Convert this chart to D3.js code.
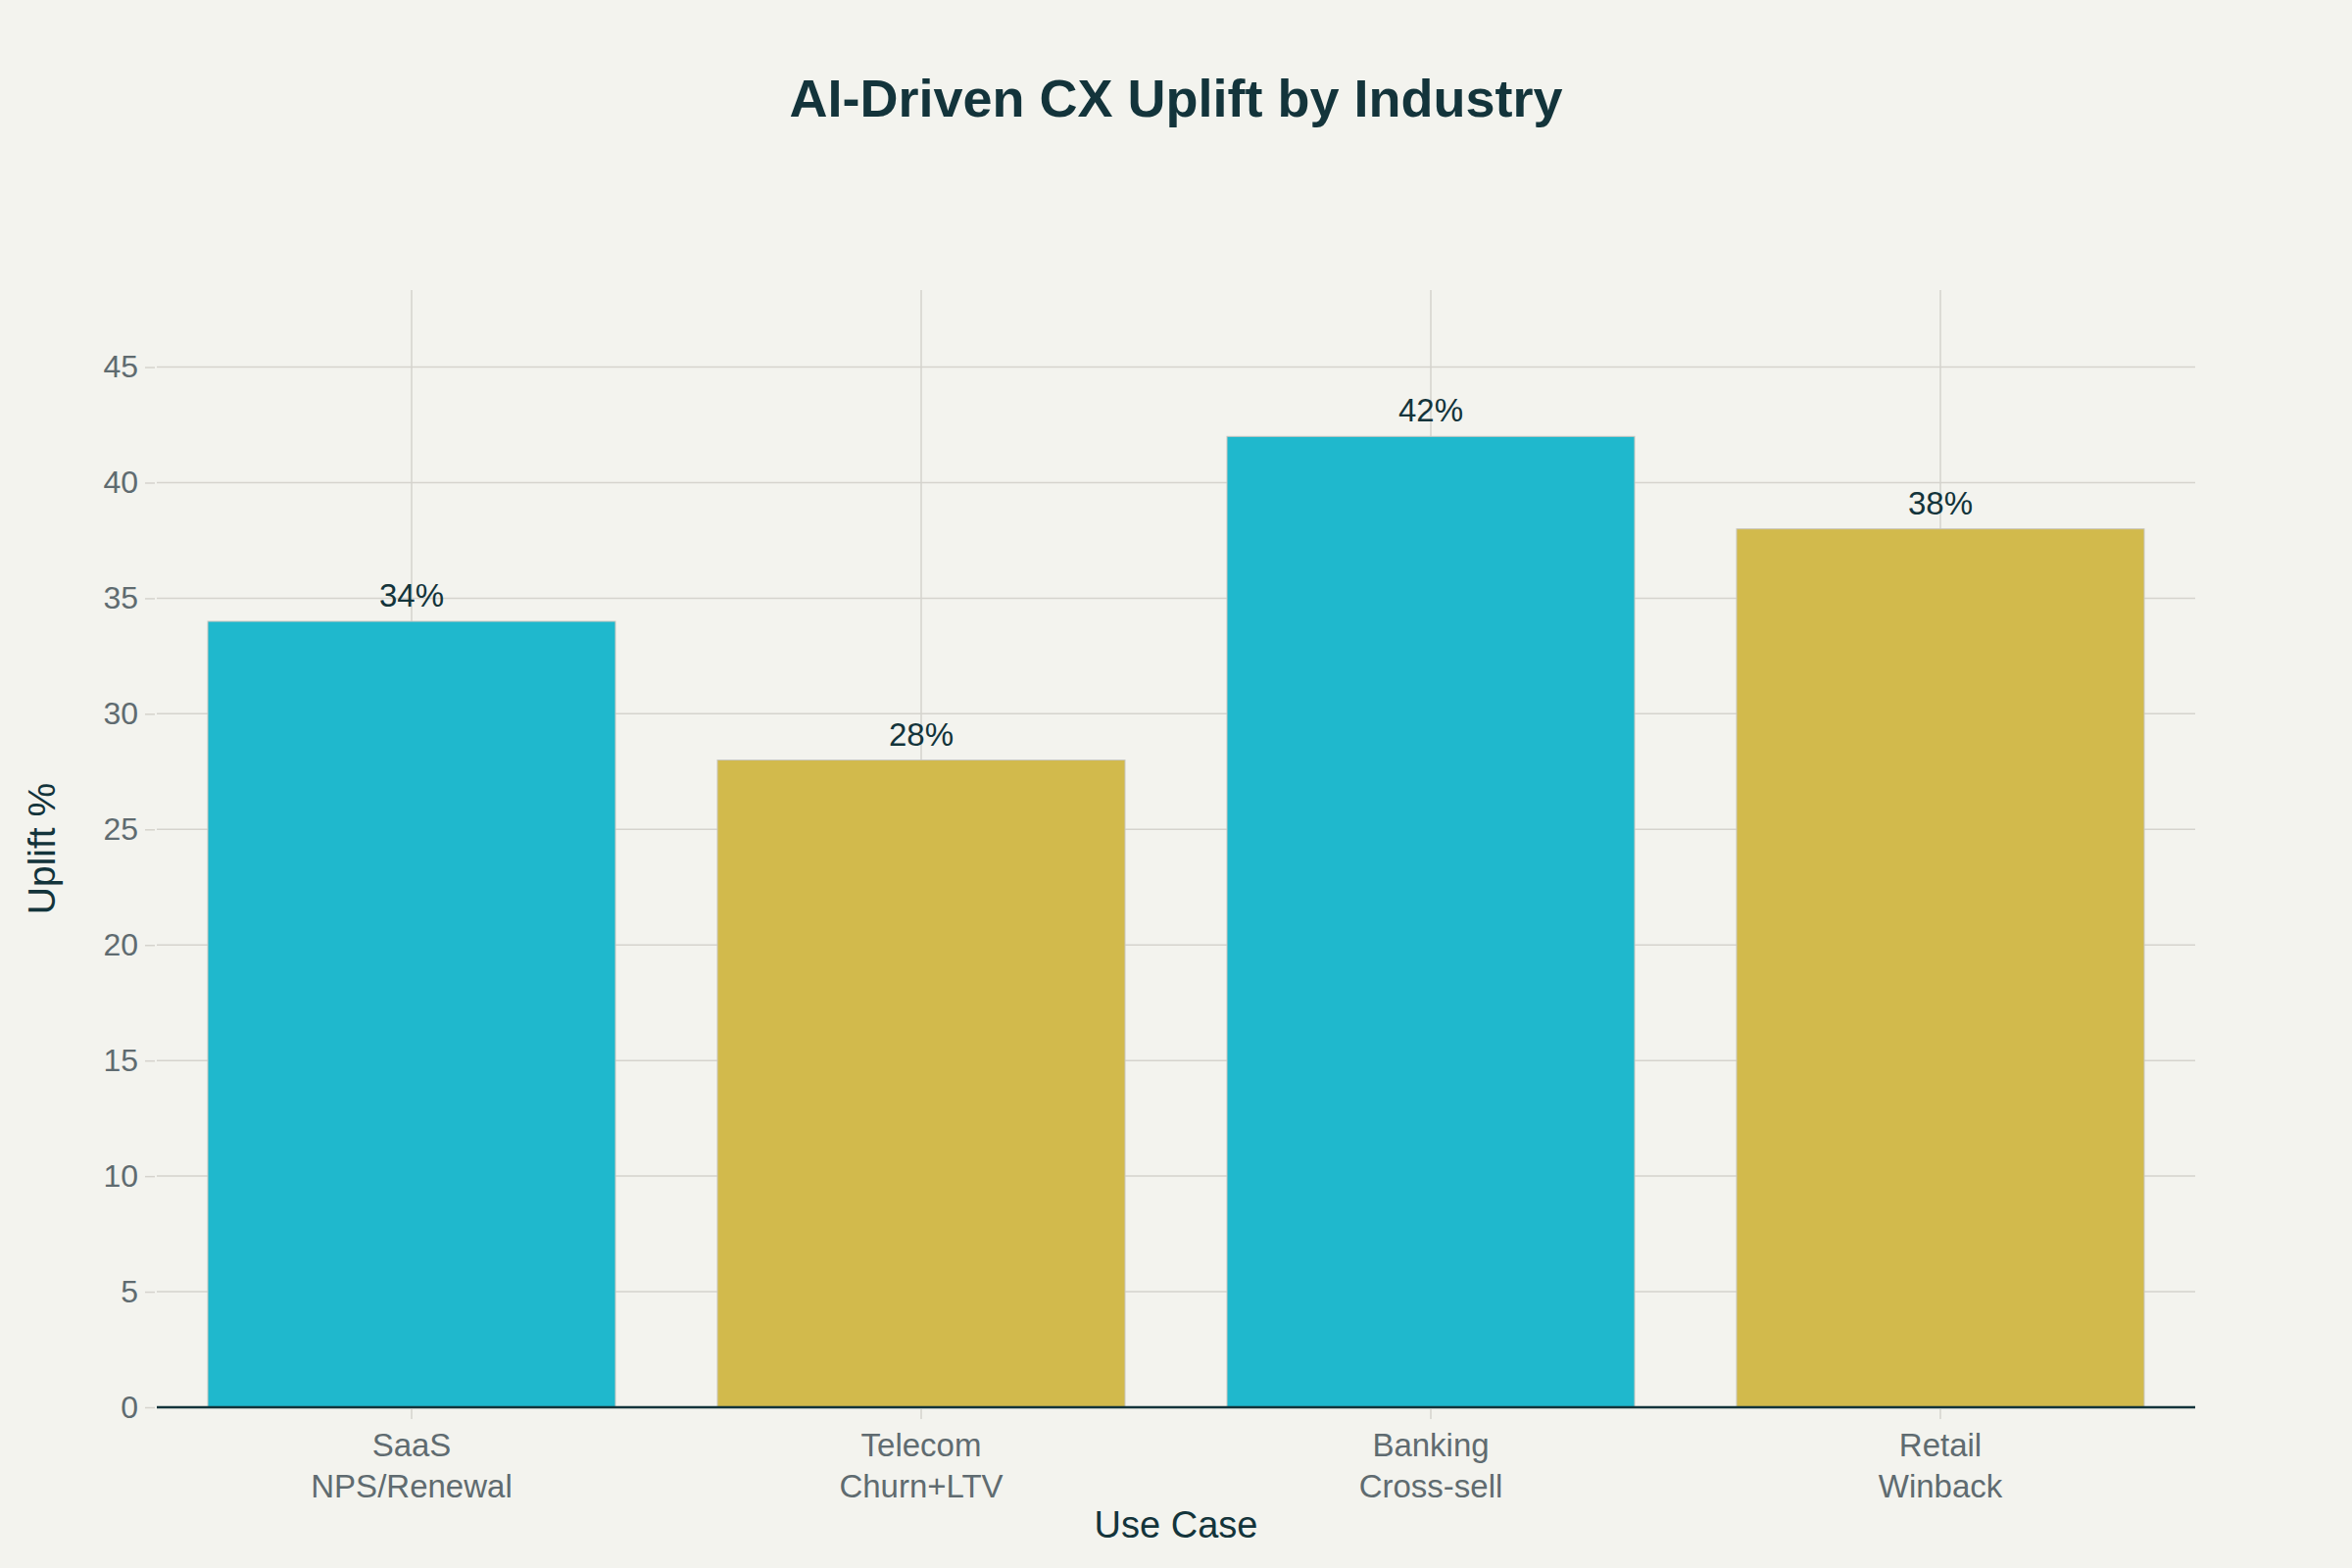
<!DOCTYPE html>
<html>
<head>
<meta charset="utf-8">
<script src="https://cdn.jsdelivr.net/npm/d3@7"></script>
<style>
  body { margin: 0; background: #F3F3EE; }
  svg { display: block; font-family: "Liberation Sans", Arial, sans-serif; }
</style>
</head>
<body>
<svg id="chart"></svg>
<script>
// chart data
const industries = ["SaaS", "Telecom", "Banking", "Retail"];
const useCases = ["NPS/Renewal", "Churn+LTV", "Cross-sell", "Winback"];
const uplift = [34, 28, 42, 38];
const barColors = ["#1FB8CD", "#D2BA4C", "#1FB8CD", "#D2BA4C"];
const yTicks = [0, 5, 10, 15, 20, 25, 30, 35, 40, 45];

const width = 2400;
const height = 1600;
const margin = { top: 296, right: 160, bottom: 164, left: 160 };
const innerW = width - margin.left - margin.right;
const innerH = height - margin.top - margin.bottom;

const svg = d3.select("#chart")
  .attr("width", width)
  .attr("height", height);

svg.append("rect")
  .attr("width", width)
  .attr("height", height)
  .attr("fill", "#F3F3EE");

const g = svg.append("g")
  .attr("transform", `translate(${margin.left},${margin.top})`);

const x = d3.scaleBand()
  .domain(industries)
  .range([0, innerW])
  .paddingInner(0.2)
  .paddingOuter(0.1);

const y = d3.scaleLinear()
  .domain([0, 48.33])
  .range([innerH, 0]);

// grid lines
g.append("g")
  .selectAll("line")
  .data(yTicks.slice(1))
  .enter()
  .append("line")
  .attr("x1", 0)
  .attr("x2", innerW)
  .attr("y1", d => y(d))
  .attr("y2", d => y(d))
  .attr("stroke", "#D5D3CD")
  .attr("stroke-width", 1.5);

g.append("g")
  .selectAll("line")
  .data(industries)
  .enter()
  .append("line")
  .attr("x1", d => x(d) + x.bandwidth() / 2)
  .attr("x2", d => x(d) + x.bandwidth() / 2)
  .attr("y1", 0)
  .attr("y2", innerH)
  .attr("stroke", "#D5D3CD")
  .attr("stroke-width", 1.5);

// y axis
const yAxis = g.append("g")
  .attr("transform", "translate(-2,0)")
  .call(d3.axisLeft(y).tickValues(yTicks).tickSize(10).tickPadding(7));
yAxis.select(".domain").remove();
yAxis.selectAll(".tick line").attr("stroke", "#D5D3CD").attr("stroke-width", 1.5);
yAxis.selectAll(".tick text")
  .attr("fill", "#5F6B70")
  .style("font-size", "32px")
  .style("font-family", "Liberation Sans, Arial, sans-serif");

// bars
g.selectAll(".bar")
  .data(uplift)
  .enter()
  .append("rect")
  .attr("class", "bar")
  .attr("x", (d, i) => x(industries[i]))
  .attr("y", d => y(d))
  .attr("width", x.bandwidth())
  .attr("height", d => innerH - y(d))
  .attr("fill", (d, i) => barColors[i])
  .attr("stroke", "#C9C7C0")
  .attr("stroke-width", 1);

// value labels
g.selectAll(".val")
  .data(uplift)
  .enter()
  .append("text")
  .attr("class", "val")
  .attr("x", (d, i) => x(industries[i]) + x.bandwidth() / 2)
  .attr("y", d => y(d) - 15)
  .attr("text-anchor", "middle")
  .attr("fill", "#13343B")
  .style("font-size", "33px")
  .text(d => d + "%");

// x axis line
g.append("line")
  .attr("x1", 0)
  .attr("x2", innerW)
  .attr("y1", innerH)
  .attr("y2", innerH)
  .attr("stroke", "#13343B")
  .attr("stroke-width", 2.5);

// x ticks and two-line labels
const xt = g.append("g")
  .selectAll("g")
  .data(industries)
  .enter()
  .append("g")
  .attr("transform", d => `translate(${x(d) + x.bandwidth() / 2},${innerH})`);

xt.append("line")
  .attr("y1", 2)
  .attr("y2", 12)
  .attr("stroke", "#D5D3CD")
  .attr("stroke-width", 1.5);

xt.append("text")
  .attr("y", 50)
  .attr("text-anchor", "middle")
  .attr("fill", "#5F6B70")
  .style("font-size", "33px")
  .text(d => d);

xt.append("text")
  .attr("y", 92)
  .attr("text-anchor", "middle")
  .attr("fill", "#5F6B70")
  .style("font-size", "33px")
  .text((d, i) => useCases[i]);

// axis titles
svg.append("text")
  .attr("x", margin.left + innerW / 2)
  .attr("y", 1569)
  .attr("text-anchor", "middle")
  .attr("fill", "#13343B")
  .style("font-size", "38px")
  .text("Use Case");

svg.append("text")
  .attr("transform", `translate(56,${margin.top + innerH / 2}) rotate(-90)`)
  .attr("text-anchor", "middle")
  .attr("fill", "#13343B")
  .style("font-size", "39px")
  .text("Uplift %");

// title
svg.append("text")
  .attr("x", width / 2)
  .attr("y", 119)
  .attr("text-anchor", "middle")
  .attr("fill", "#13343B")
  .style("font-size", "54px")
  .style("font-weight", "bold")
  .text("AI-Driven CX Uplift by Industry");
</script>
</body>
</html>
